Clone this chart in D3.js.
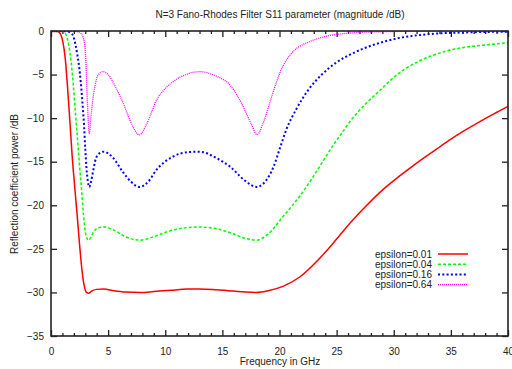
<!DOCTYPE html>
<html>
<head>
<meta charset="utf-8">
<style>
  body { margin: 0; background: #fff; }
  svg { font-family: "Liberation Sans", Arial, sans-serif; font-size: 10px; }
  .axis path { display: none; }
  .axis line { stroke: #222; stroke-width: 1.3px; }
  .axis text { fill: #222; font-size: 10px; font-family: "Liberation Sans", Arial, sans-serif; }
  .label { fill: #222; }
</style>
</head>
<body>
<script src="https://cdn.jsdelivr.net/npm/d3@7"></script>
<script>

  // series: [frequency GHz, dB]
  var eps001 = [[0,0],[0.6,-0.05],[0.85,-0.4],[1.05,-1.3],[1.25,-3.2],[1.45,-6.5],[1.65,-10.3],[1.85,-14.3],
    [2.05,-17.5],[2.3,-21.3],[2.5,-24.5],[2.7,-27.3],[2.9,-29.2],[3.1,-30.0],[3.3,-30.1],[3.55,-29.85],
    [4.0,-29.65],[4.6,-29.6],[5.5,-29.8],[6.5,-29.95],[7.8,-30.0],[9,-29.9],[10.5,-29.75],[12,-29.62],
    [13,-29.6],[14.5,-29.7],[16,-29.85],[17,-29.95],[18,-30.0],[19,-29.8],[20.3,-29.3],[21.8,-28.2],
    [23.25,-26.45],[24.7,-24.35],[26.2,-22.0],[27.6,-20.05],[29.1,-18.15],[30.55,-16.6],[32,-15.15],
    [33.8,-13.5],[35,-12.42],[36.1,-11.5],[37.5,-10.42],[38.8,-9.48],[40,-8.65]];

  var eps004 = [[0,0],[1.0,-0.05],[1.3,-0.4],[1.55,-1.6],[1.75,-3.4],[1.95,-6.2],[2.15,-9.6],[2.35,-12.9],
    [2.5,-15.5],[2.7,-18.6],[2.85,-21.2],[3.0,-23.0],[3.15,-23.8],[3.3,-24.0],[3.5,-23.6],[3.75,-23.0],
    [4.1,-22.6],[4.6,-22.5],[5.5,-22.85],[6.5,-23.6],[7.8,-24.0],[9,-23.6],[10.5,-22.9],[12,-22.55],
    [13,-22.5],[14.5,-22.7],[16,-23.3],[17,-23.8],[18,-24.0],[19,-23.3],[20.3,-21.3],[21.8,-18.9],
    [23.25,-16.1],[24.4,-13.7],[25.4,-11.8],[26.4,-10.0],[27.3,-8.7],[28.8,-6.8],[30.3,-5.0],
    [31.7,-3.8],[33.2,-2.9],[34.6,-2.3],[36.1,-1.9],[38,-1.6],[40,-1.35]];

  var eps016 = [[0,0],[1.3,-0.03],[1.7,-0.2],[1.95,-0.6],[2.15,-1.6],[2.3,-2.7],[2.45,-4.0],[2.6,-5.8],
    [2.75,-8.2],[2.9,-11.0],[3.0,-13.5],[3.1,-15.6],[3.22,-17.2],[3.35,-17.9],[3.5,-17.3],[3.7,-16.0],
    [3.85,-15.0],[4.1,-14.2],[4.6,-13.85],[5.4,-14.5],[6.3,-16.2],[7,-17.3],[7.75,-17.9],[8.5,-17.3],
    [9.25,-15.9],[10.7,-14.4],[12,-13.9],[13,-13.85],[14.5,-14.6],[15.7,-15.6],[17,-17.2],[18,-17.9],
    [18.6,-17.5],[19.1,-16.6],[19.5,-15.5],[20.0,-13.6],[20.6,-11.3],[21.5,-8.9],[22.5,-6.8],[23.7,-5.0],
    [25.0,-3.6],[26.5,-2.5],[28.2,-1.6],[30.3,-0.85],[33.2,-0.35],[36.6,-0.15],[40,-0.08]];

  var eps064 = [[0,0],[2.0,-0.03],[2.4,-0.1],[2.6,-0.25],[2.8,-0.7],[2.95,-1.6],[3.05,-3.5],[3.12,-6.0],
    [3.2,-8.6],[3.28,-10.8],[3.35,-11.8],[3.5,-9.8],[3.65,-8.0],[3.85,-6.3],[4.1,-5.1],[4.55,-4.67],
    [5.0,-5.0],[5.6,-6.3],[6.33,-8.3],[7.0,-10.5],[7.73,-11.93],[8.4,-10.6],[9.25,-7.9],[10.0,-6.6],
    [10.7,-5.8],[12,-4.9],[13.04,-4.67],[14.5,-5.2],[15.67,-6.2],[16.83,-8.7],[17.5,-10.6],[18.05,-11.9],
    [18.5,-10.8],[18.9,-9.3],[19.3,-7.6],[19.7,-6.0],[20.1,-4.6],[20.9,-2.8],[21.6,-1.9],[22.4,-1.35],
    [24.1,-0.6],[26.2,-0.23],[29,-0.08],[32,-0.03],[40,0]];

  var seriesNames = ["epsilon=0.01", "epsilon=0.04", "epsilon=0.16", "epsilon=0.64"];
  var seriesData = [eps001, eps004, eps016, eps064];
  var xTicks = [0, 5, 10, 15, 20, 25, 30, 35, 40];
  var yTicks = [0, -5, -10, -15, -20, -25, -30, -35];

  var styles = [
    { color: "#ff0000", width: 1.5, dash: null },
    { color: "#00ff00", width: 1.5, dash: "3,2" },
    { color: "#0000ff", width: 2, dash: "2,2.3" },
    { color: "#ff00ff", width: 1.3, dash: "1,1" }
  ];

  var margin = { top: 31, right: 4, bottom: 33, left: 51 },
      width = 512 - margin.left - margin.right,
      height = 369 - margin.top - margin.bottom;

  var svg = d3.select("body").append("svg")
      .attr("width", 512)
      .attr("height", 369);

  var g = svg.append("g")
      .attr("transform", "translate(" + margin.left + "," + margin.top + ")");

  var x = d3.scaleLinear().domain([0, 40]).range([0, width]);
  var y = d3.scaleLinear().domain([-35, 0]).range([height, 0]);

  var minorX = d3.range(0, 41, 1).filter(function(d) { return d % 5 != 0; });

  // bottom axis, ticks pointing inward
  g.append("g").attr("class", "axis")
      .attr("transform", "translate(0," + height + ")")
      .call(d3.axisBottom(x).tickValues(xTicks).tickSize(-6).tickPadding(12).tickFormat(d3.format("d")));
  g.append("g").attr("class", "axis")
      .attr("transform", "translate(0," + height + ")")
      .call(d3.axisBottom(x).tickValues(minorX).tickSize(-3).tickFormat(""));

  g.append("g").attr("class", "axis")
      .call(d3.axisTop(x).tickValues(xTicks).tickSize(-6).tickFormat(""));
  g.append("g").attr("class", "axis")
      .call(d3.axisTop(x).tickValues(minorX).tickSize(-3).tickFormat(""));

  g.append("g").attr("class", "axis")
      .call(d3.axisLeft(y).tickValues(yTicks).tickSize(-6).tickPadding(7).tickFormat(d3.format("d")));
  g.append("g").attr("class", "axis")
      .attr("transform", "translate(" + width + ",0)")
      .call(d3.axisRight(y).tickValues(yTicks).tickSize(-6).tickFormat(""));

  g.selectAll(".axis text").style("fill", "#222");

  g.append("clipPath").attr("id", "clip")
    .append("rect").attr("width", width).attr("height", height);

  var line = d3.line()
      .x(function(d) { return x(d[0]); })
      .y(function(d) { return y(d[1]); })
      .curve(d3.curveMonotoneX);

  seriesData.forEach(function(data, i) {
    g.append("path")
        .datum(data)
        .attr("clip-path", "url(#clip)")
        .attr("fill", "none")
        .attr("stroke", styles[i].color)
        .attr("stroke-width", styles[i].width)
        .attr("stroke-dasharray", styles[i].dash)
        .attr("d", line);
  });

  // border
  g.append("rect")
      .attr("width", width)
      .attr("height", height)
      .attr("fill", "none")
      .attr("stroke", "#222")
      .attr("stroke-width", 1.6);

  // legend
  var legend = g.selectAll(".legend")
      .data(seriesNames)
      .enter().append("g")
      .attr("transform", function(d, i) { return "translate(0," + (223 + i * 10.2) + ")"; });

  legend.append("text")
      .attr("class", "label")
      .attr("x", 381)
      .attr("dy", "0.35em")
      .style("text-anchor", "end")
      .text(function(d) { return d; });

  legend.append("line")
      .attr("x1", 387).attr("x2", 417)
      .attr("stroke", function(d, i) { return styles[i].color; })
      .attr("stroke-width", function(d, i) { return styles[i].width; })
      .attr("stroke-dasharray", function(d, i) { return styles[i].dash; });

  // titles
  svg.append("text")
      .attr("class", "label")
      .attr("x", 280).attr("y", 18)
      .style("text-anchor", "middle")
      .text("N=3 Fano-Rhodes Filter S11 parameter (magnitude /dB)");

  svg.append("text")
      .attr("class", "label")
      .attr("x", 280).attr("y", 365)
      .style("text-anchor", "middle")
      .text("Frequency in GHz");

  svg.append("text")
      .attr("class", "label")
      .attr("transform", "translate(18,184) rotate(-90)")
      .style("text-anchor", "middle")
      .text("Reflection coefficient power /dB");

</script>
</body>
</html>
